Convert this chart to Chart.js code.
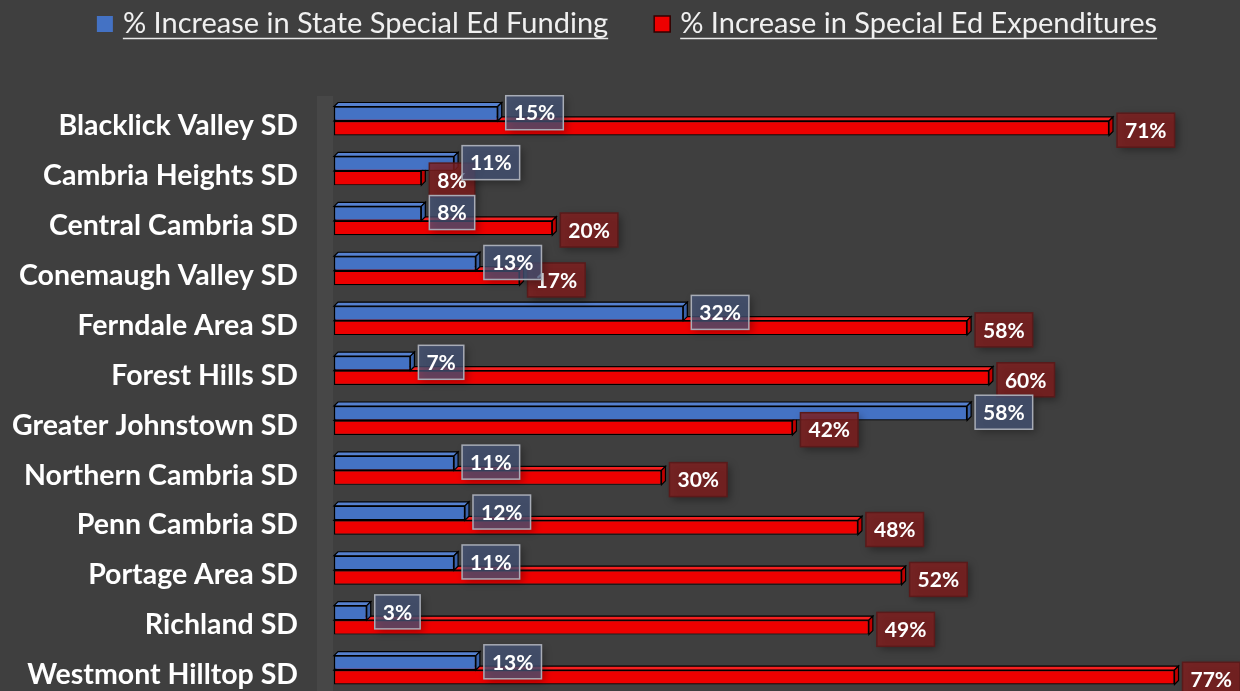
<!DOCTYPE html>
<html lang="en">
<head>
  <meta charset="UTF-8" />
  <title>Special Ed Funding vs Expenditures</title>
  <script src="https://cdn.jsdelivr.net/npm/chart.js"></script>
  <style>
    html, body { margin: 0; padding: 0; background: #3f3f3f; overflow: hidden; }
    canvas { display: block; }
  </style>
</head>
<body>
  <canvas id="chart" width="1240" height="695"></canvas>

  <script>
    // Data
    const districts = [
      'Blacklick Valley SD', 'Cambria Heights SD', 'Central Cambria SD', 'Conemaugh Valley SD',
      'Ferndale Area SD', 'Forest Hills SD', 'Greater Johnstown SD', 'Northern Cambria SD',
      'Penn Cambria SD', 'Portage Area SD', 'Richland SD', 'Westmont Hilltop SD'
    ];
    const fundingIncrease = [15, 11, 8, 13, 32, 7, 58, 11, 12, 11, 3, 13];
    const expenditureIncrease = [71, 8, 20, 17, 58, 60, 42, 30, 48, 52, 49, 77];

    const DEPTH = 4;
    const FONT = 'Lato, "Open Sans", sans-serif';

    // left "wall" strip like the 3D back panel
    const wall = {
      id: 'wall',
      beforeDatasetsDraw(chart) {
        const { ctx, chartArea } = chart;
        ctx.save();
        ctx.fillStyle = '#474747';
        ctx.fillRect(chartArea.left - 17, chartArea.top, 16, chartArea.bottom - chartArea.top);
        ctx.restore();
      }
    };

    // top + right faces for a fake 3D look
    const bars3d = {
      id: 'bars3d',
      beforeDatasetDraw(chart, args) {
        const { ctx } = chart;
        const ds = chart.data.datasets[args.index];
        const d = DEPTH;
        ctx.save();
        ctx.lineWidth = 1.2;
        ctx.strokeStyle = '#000';
        args.meta.data.forEach(bar => {
          const x0 = bar.base, x1 = bar.x;
          const y0 = bar.y - bar.height / 2, y1 = bar.y + bar.height / 2;
          ctx.beginPath();
          ctx.moveTo(x0, y0);
          ctx.lineTo(x0 + d, y0 - d);
          ctx.lineTo(x1 + d, y0 - d);
          ctx.lineTo(x1, y0);
          ctx.closePath();
          ctx.fillStyle = ds.topColor;
          ctx.fill();
          ctx.stroke();
          ctx.beginPath();
          ctx.moveTo(x1, y0);
          ctx.lineTo(x1 + d, y0 - d);
          ctx.lineTo(x1 + d, y1 - d);
          ctx.lineTo(x1, y1);
          ctx.closePath();
          ctx.fillStyle = ds.sideColor;
          ctx.fill();
          ctx.stroke();
        });
        ctx.restore();
      }
    };

    // boxed value labels
    const valueLabels = {
      id: 'valueLabels',
      afterDatasetsDraw(chart) {
        const { ctx } = chart;
        ctx.save();
        ctx.font = 'bold 21px ' + FONT;
        ctx.textAlign = 'center';
        ctx.textBaseline = 'middle';
        [1, 0].forEach(i => {
          const ds = chart.data.datasets[i];
          chart.getDatasetMeta(i).data.forEach((bar, j) => {
            const txt = ds.data[j] + '%';
            const w = ctx.measureText(txt).width + 16;
            const h = 34;
            const x = bar.x + DEPTH + 4;
            const y = bar.y - h / 2 + (i === 0 ? -1 : 2);
            ctx.shadowColor = 'rgba(0,0,0,0.45)';
            ctx.shadowBlur = 8;
            ctx.shadowOffsetX = 3;
            ctx.shadowOffsetY = 3;
            ctx.fillStyle = ds.labelFill;
            ctx.fillRect(x, y, w, h);
            ctx.shadowColor = 'transparent';
            ctx.lineWidth = 1.5;
            ctx.strokeStyle = ds.labelBorder;
            ctx.strokeRect(x, y, w, h);
            ctx.fillStyle = '#ffffff';
            ctx.fillText(txt, x + w / 2, y + h / 2 + 1);
          });
        });
        ctx.restore();
      }
    };

    // legend drawn by hand: square + underlined text
    const topLegend = {
      id: 'topLegend',
      afterDraw(chart) {
        const { ctx } = chart;
        const sets = chart.data.datasets;
        const box = 16, boxGap = 10, itemGap = 46;
        ctx.save();
        ctx.font = '29px ' + FONT;
        ctx.textBaseline = 'middle';
        const widths = sets.map(ds => ctx.measureText(ds.label).width);
        const total = widths.reduce((a, w) => a + box + boxGap + w, 0) + itemGap * (sets.length - 1);
        let x = (chart.width - total) / 2 + 7;
        const cy = 24;
        sets.forEach((ds, i) => {
          ctx.fillStyle = ds.backgroundColor;
          ctx.fillRect(x, cy - box / 2, box, box);
          if (i === 1) {
            ctx.strokeStyle = '#300';
            ctx.lineWidth = 1.5;
            ctx.strokeRect(x, cy - box / 2, box, box);
          }
          const tx = x + box + boxGap;
          ctx.fillStyle = '#f0f0f0';
          ctx.fillText(ds.label, tx, cy);
          ctx.strokeStyle = '#e8e8e8';
          ctx.lineWidth = 1.5;
          ctx.beginPath();
          ctx.moveTo(tx, cy + 14.5);
          ctx.lineTo(tx + widths[i], cy + 14.5);
          ctx.stroke();
          x = tx + widths[i] + itemGap;
        });
        ctx.restore();
      }
    };

    new Chart(document.getElementById('chart'), {
      type: 'bar',
      data: {
        labels: districts,
        datasets: [{
          label: '% Increase in State Special Ed Funding',
          data: fundingIncrease,
          backgroundColor: '#4472c4',
          borderColor: '#000',
          borderWidth: 1.2,
          borderSkipped: false,
          topColor: '#5681cf',
          sideColor: '#3a62a8',
          labelFill: 'rgba(72, 88, 125, 0.72)',
          labelBorder: '#a8acb6'
        }, {
          label: '% Increase in Special Ed Expenditures',
          data: expenditureIncrease,
          backgroundColor: '#ee0000',
          borderColor: '#000',
          borderWidth: 1.2,
          borderSkipped: false,
          topColor: '#f52020',
          sideColor: '#c00000',
          labelFill: 'rgba(130, 30, 30, 0.8)',
          labelBorder: '#5a1a1a'
        }]
      },
      options: {
        indexAxis: 'y',
        responsive: false,
        animation: false,
        datasets: { bar: { categoryPercentage: 0.58, barPercentage: 1 } },
        layout: { padding: { left: 0, right: 0, top: 96, bottom: 0 } },
        scales: {
          x: {
            display: false,
            min: 0,
            max: 83
          },
          y: {
            grid: { display: false, drawTicks: false },
            border: { display: false },
            ticks: {
              color: '#ffffff',
              padding: 36,
              labelOffset: 5,
              font: { family: FONT, size: 28.5, weight: 'bold' }
            },
            afterFit(scale) {
              scale.width = 334;
              scale.paddingTop = 0;
              scale.paddingBottom = 0;
            }
          }
        },
        plugins: {
          legend: { display: false },
          tooltip: { enabled: false }
        }
      },
      plugins: [wall, bars3d, valueLabels, topLegend]
    });
  </script>
</body>
</html>
